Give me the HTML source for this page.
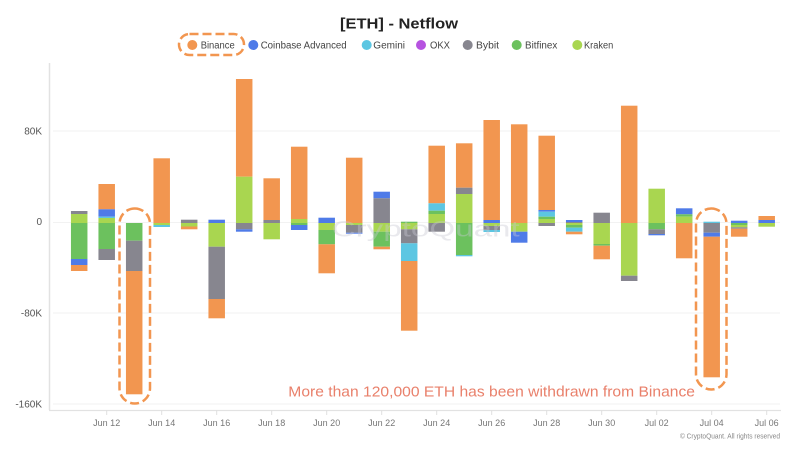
<!DOCTYPE html>
<html>
<head>
<meta charset="utf-8">
<style>
html,body{margin:0;padding:0;background:#fff;}
svg{display:block;}
text{font-family:"Liberation Sans","DejaVu Sans",sans-serif;}
.O{fill:#F29650}.B{fill:#4F7BE8}.C{fill:#5CC6E2}.P{fill:#B653E0}.G{fill:#87868F}.R{fill:#6CC15E}.L{fill:#A9D650}
</style>
</head>
<body>
<svg width="800" height="450" viewBox="0 0 800 450" xmlns="http://www.w3.org/2000/svg">
<rect width="800" height="450" fill="#fff"/>
<text x="399" y="28.5" font-size="15" font-weight="bold" fill="#222" text-anchor="middle" textLength="118" lengthAdjust="spacingAndGlyphs">[ETH] - Netflow</text>
<g font-size="10" fill="#444">
<circle cx="192.3" cy="45" r="5" class="O"/><text x="200.7" y="48.5" textLength="34" lengthAdjust="spacingAndGlyphs">Binance</text>
<circle cx="253.3" cy="45" r="5" class="B"/><text x="260.7" y="48.5" textLength="86" lengthAdjust="spacingAndGlyphs">Coinbase Advanced</text>
<circle cx="366.7" cy="45" r="5" class="C"/><text x="373.3" y="48.5" textLength="31.7" lengthAdjust="spacingAndGlyphs">Gemini</text>
<circle cx="421" cy="45" r="5" class="P"/><text x="430" y="48.5" textLength="20" lengthAdjust="spacingAndGlyphs">OKX</text>
<circle cx="467.7" cy="45" r="5" class="G"/><text x="476" y="48.5" textLength="23" lengthAdjust="spacingAndGlyphs">Bybit</text>
<circle cx="516.7" cy="45" r="5" class="R"/><text x="525" y="48.5" textLength="32.3" lengthAdjust="spacingAndGlyphs">Bitfinex</text>
<circle cx="577.3" cy="45" r="5" class="L"/><text x="584" y="48.5" textLength="29.3" lengthAdjust="spacingAndGlyphs">Kraken</text>
</g>
<rect x="179" y="34" width="65" height="21" rx="10.5" fill="none" stroke="#F29650" stroke-width="2.5" stroke-dasharray="9 4"/>

<g stroke="#f2f2f2" stroke-width="1">
<line x1="53" y1="131" x2="780" y2="131"/>
<line x1="53" y1="222.5" x2="780" y2="222.5"/>
<line x1="53" y1="313" x2="780" y2="313"/>
<line x1="53" y1="404" x2="780" y2="404"/>
</g>
<line x1="49.5" y1="63" x2="49.5" y2="410" stroke="#e2e2e2" stroke-width="1.5"/>
<line x1="49" y1="410.5" x2="781" y2="410.5" stroke="#e2e2e2" stroke-width="1.2"/>

<g font-size="10" fill="#555" text-anchor="end">
<text x="42" y="134.5">80K</text>
<text x="42" y="225">0</text>
<text x="42" y="316.5">-80K</text>
<text x="42" y="407.5">-160K</text>
</g>

<g stroke="#e0e0e0" stroke-width="1">
<line x1="106.7" y1="410" x2="106.7" y2="415"/><line x1="161.7" y1="410" x2="161.7" y2="415"/><line x1="216.7" y1="410" x2="216.7" y2="415"/><line x1="271.7" y1="410" x2="271.7" y2="415"/><line x1="326.7" y1="410" x2="326.7" y2="415"/><line x1="381.7" y1="410" x2="381.7" y2="415"/><line x1="436.7" y1="410" x2="436.7" y2="415"/><line x1="491.7" y1="410" x2="491.7" y2="415"/><line x1="546.7" y1="410" x2="546.7" y2="415"/><line x1="601.7" y1="410" x2="601.7" y2="415"/><line x1="656.7" y1="410" x2="656.7" y2="415"/><line x1="711.7" y1="410" x2="711.7" y2="415"/><line x1="766.7" y1="410" x2="766.7" y2="415"/>
</g>
<g font-size="9" fill="#777" text-anchor="middle">
<text x="106.7" y="426">Jun 12</text><text x="161.7" y="426">Jun 14</text><text x="216.7" y="426">Jun 16</text><text x="271.7" y="426">Jun 18</text><text x="326.7" y="426">Jun 20</text><text x="381.7" y="426">Jun 22</text><text x="436.7" y="426">Jun 24</text><text x="491.7" y="426">Jun 26</text><text x="546.7" y="426">Jun 28</text><text x="601.7" y="426">Jun 30</text><text x="656.7" y="426">Jul 02</text><text x="711.7" y="426">Jul 04</text><text x="766.7" y="426">Jul 06</text>
</g>

<!-- bars -->
<g transform="translate(70.95,0)"><rect class="G" y="211" width="16.5" height="3"/><rect class="L" y="214" width="16.5" height="9"/><rect class="R" y="223" width="16.5" height="36"/><rect class="B" y="259" width="16.5" height="6"/><rect class="O" y="265" width="16.5" height="6"/></g>
<g transform="translate(98.45,0)"><rect class="O" y="184" width="16.5" height="25.3"/><rect class="B" y="209.3" width="16.5" height="7.4"/><rect class="C" y="216.7" width="16.5" height="1.3"/><rect class="L" y="218" width="16.5" height="5"/><rect class="R" y="223" width="16.5" height="26"/><rect class="G" y="249" width="16.5" height="11"/></g>
<g transform="translate(125.95,0)"><rect class="R" y="223" width="16.5" height="17.7"/><rect class="G" y="240.7" width="16.5" height="30.3"/><rect class="O" y="271" width="16.5" height="123.3"/></g>
<g transform="translate(153.45,0)"><rect class="O" y="158.3" width="16.5" height="64.7"/><rect class="L" y="223" width="16.5" height="2"/><rect class="C" y="225" width="16.5" height="2"/></g>
<g transform="translate(180.95,0)"><rect class="G" y="219.7" width="16.5" height="3.3"/><rect class="L" y="223" width="16.5" height="3.5"/><rect class="O" y="226.5" width="16.5" height="2.8"/></g>
<g transform="translate(208.45,0)"><rect class="B" y="219.7" width="16.5" height="3.3"/><rect class="L" y="223" width="16.5" height="23.7"/><rect class="G" y="246.7" width="16.5" height="52.3"/><rect class="O" y="299" width="16.5" height="19.3"/></g>
<g transform="translate(235.95,0)"><rect class="O" y="79" width="16.5" height="97.7"/><rect class="L" y="176.7" width="16.5" height="46.3"/><rect class="G" y="223" width="16.5" height="6.3"/><rect class="B" y="229.3" width="16.5" height="2.4"/></g>
<g transform="translate(263.45,0)"><rect class="O" y="178.3" width="16.5" height="41.7"/><rect class="G" y="220" width="16.5" height="3"/><rect class="L" y="223" width="16.5" height="16.3"/></g>
<g transform="translate(290.95,0)"><rect class="O" y="146.7" width="16.5" height="72.3"/><rect class="L" y="219" width="16.5" height="4"/><rect class="R" y="223" width="16.5" height="2"/><rect class="B" y="225" width="16.5" height="5"/></g>
<g transform="translate(318.45,0)"><rect class="B" y="217.7" width="16.5" height="5.3"/><rect class="L" y="223" width="16.5" height="7"/><rect class="R" y="230" width="16.5" height="14.3"/><rect class="O" y="244.3" width="16.5" height="29"/></g>
<g transform="translate(345.95,0)"><rect class="O" y="157.7" width="16.5" height="65.3"/><rect class="L" y="223" width="16.5" height="2"/><rect class="G" y="225" width="16.5" height="7.7"/><rect class="B" y="232.7" width="16.5" height="1"/></g>
<g transform="translate(373.45,0)"><rect class="B" y="191.7" width="16.5" height="6.6"/><rect class="G" y="198.3" width="16.5" height="24.7"/><rect class="L" y="223" width="16.5" height="8.7"/><rect class="R" y="231.7" width="16.5" height="15"/><rect class="O" y="246.7" width="16.5" height="2.6"/></g>
<g transform="translate(400.95,0)"><rect class="R" y="221.7" width="16.5" height="1.3"/><rect class="L" y="223" width="16.5" height="6.3"/><rect class="G" y="229.3" width="16.5" height="14"/><rect class="C" y="243.3" width="16.5" height="17.7"/><rect class="O" y="261" width="16.5" height="69.7"/></g>
<g transform="translate(428.45,0)"><rect class="O" y="145.7" width="16.5" height="57.6"/><rect class="C" y="203.3" width="16.5" height="7.4"/><rect class="R" y="210.7" width="16.5" height="3.3"/><rect class="L" y="214" width="16.5" height="9"/><rect class="G" y="223" width="16.5" height="8.7"/></g>
<g transform="translate(455.95,0)"><rect class="O" y="143.3" width="16.5" height="44.4"/><rect class="G" y="187.7" width="16.5" height="6.3"/><rect class="L" y="194" width="16.5" height="29"/><rect class="R" y="223" width="16.5" height="32"/><rect class="C" y="255" width="16.5" height="1.3"/></g>
<g transform="translate(483.45,0)"><rect class="O" y="120" width="16.5" height="100"/><rect class="B" y="220" width="16.5" height="3"/><rect class="L" y="223" width="16.5" height="3"/><rect class="G" y="226" width="16.5" height="4"/><rect class="C" y="230" width="16.5" height="2"/></g>
<g transform="translate(510.95,0)"><rect class="O" y="124.3" width="16.5" height="98.7"/><rect class="L" y="223" width="16.5" height="8.7"/><rect class="B" y="231.7" width="16.5" height="11"/></g>
<g transform="translate(538.45,0)"><rect class="O" y="135.7" width="16.5" height="74.3"/><rect class="B" y="210" width="16.5" height="1.7"/><rect class="C" y="211.7" width="16.5" height="5"/><rect class="R" y="216.7" width="16.5" height="2.3"/><rect class="L" y="219" width="16.5" height="4"/><rect class="G" y="223" width="16.5" height="3"/></g>
<g transform="translate(565.95,0)"><rect class="B" y="220" width="16.5" height="2"/><rect class="G" y="222" width="16.5" height="1"/><rect class="L" y="223" width="16.5" height="2"/><rect class="R" y="225" width="16.5" height="2.7"/><rect class="C" y="227.7" width="16.5" height="4"/><rect class="O" y="231.7" width="16.5" height="2.6"/></g>
<g transform="translate(593.45,0)"><rect class="G" y="212.7" width="16.5" height="10.3"/><rect class="L" y="223" width="16.5" height="21"/><rect class="R" y="244" width="16.5" height="1.7"/><rect class="O" y="245.7" width="16.5" height="13.6"/></g>
<g transform="translate(620.95,0)"><rect class="O" y="105.7" width="16.5" height="117.3"/><rect class="L" y="223" width="16.5" height="52.7"/><rect class="G" y="275.7" width="16.5" height="5.3"/></g>
<g transform="translate(648.45,0)"><rect class="L" y="188.7" width="16.5" height="34.3"/><rect class="R" y="223" width="16.5" height="6.3"/><rect class="G" y="229.3" width="16.5" height="4.7"/><rect class="B" y="234" width="16.5" height="1.3"/></g>
<g transform="translate(675.95,0)"><rect class="B" y="208.3" width="16.5" height="6"/><rect class="R" y="214.3" width="16.5" height="2.4"/><rect class="L" y="216.7" width="16.5" height="6.3"/><rect class="O" y="223" width="16.5" height="35.3"/></g>
<g transform="translate(703.45,0)"><rect class="C" y="221.7" width="16.5" height="1.3"/><rect class="G" y="223" width="16.5" height="9.7"/><rect class="B" y="232.7" width="16.5" height="4"/><rect class="O" y="236.7" width="16.5" height="140.6"/></g>
<g transform="translate(730.95,0)"><rect class="B" y="220.7" width="16.5" height="2.3"/><rect class="R" y="223" width="16.5" height="2"/><rect class="L" y="225" width="16.5" height="2.3"/><rect class="G" y="227.3" width="16.5" height="1.4"/><rect class="O" y="228.7" width="16.5" height="8"/></g>
<g transform="translate(758.45,0)"><rect class="O" y="216" width="16.5" height="4"/><rect class="B" y="220" width="16.5" height="3"/><rect class="L" y="223" width="16.5" height="3.7"/></g>

<text x="331.7" y="236.7" font-size="22" fill="#c8c8d2" fill-opacity="0.4" textLength="188" lengthAdjust="spacingAndGlyphs">CryptoQuant</text>

<rect x="119.5" y="208.5" width="30.5" height="195" rx="15.25" fill="none" stroke="#F29650" stroke-width="2.5" stroke-dasharray="9 4"/>
<rect x="696" y="208.5" width="30.5" height="181" rx="15.25" fill="none" stroke="#F29650" stroke-width="2.5" stroke-dasharray="9 4"/>

<text x="288.3" y="396.7" font-size="15" fill="#E9806B" textLength="406.7" lengthAdjust="spacingAndGlyphs">More than 120,000 ETH has been withdrawn from Binance</text>

<text x="780" y="438.5" font-size="7" fill="#888" text-anchor="end" textLength="100" lengthAdjust="spacingAndGlyphs">© CryptoQuant. All rights reserved</text>
</svg>
</body>
</html>
